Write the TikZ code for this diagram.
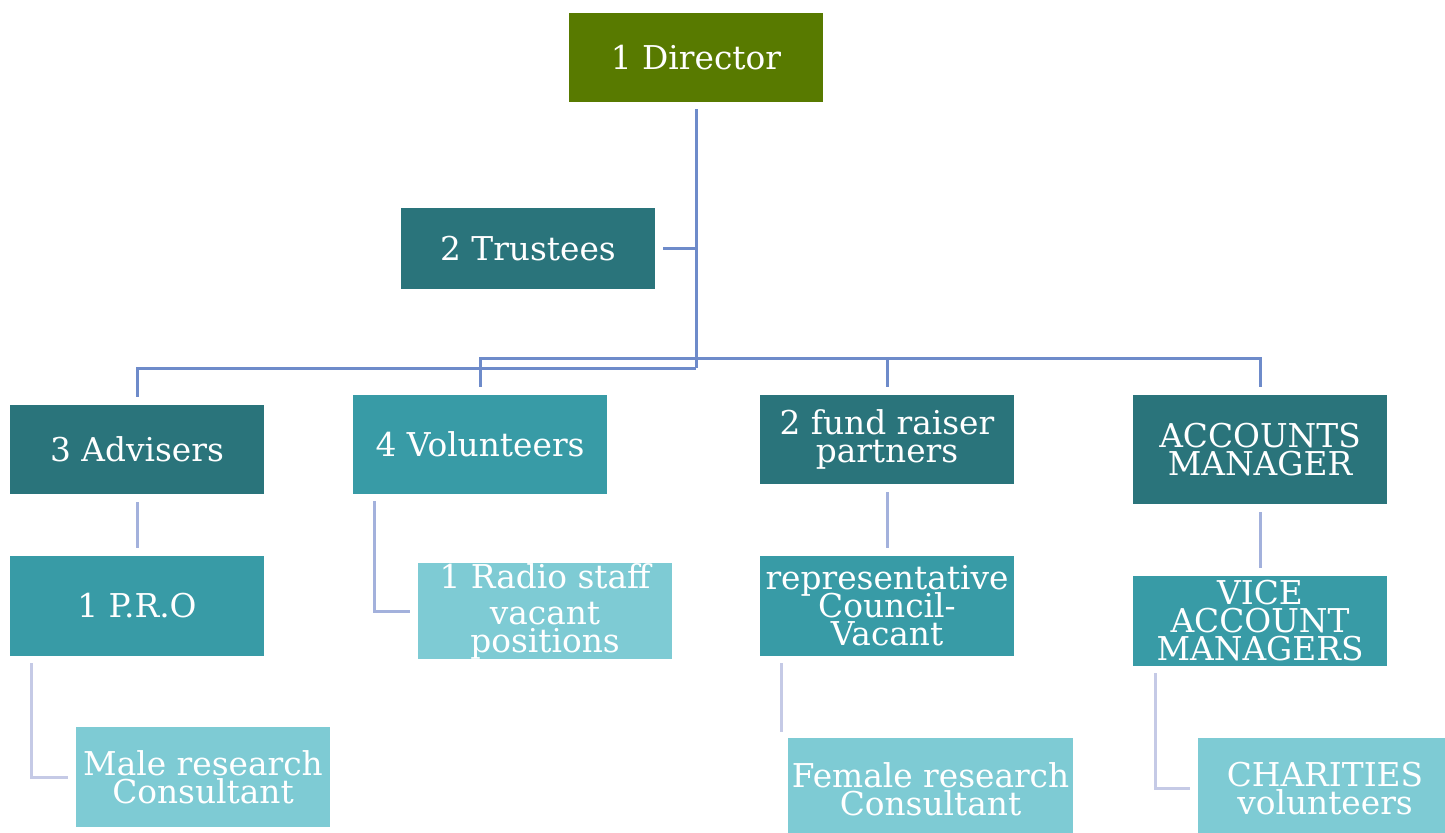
\documentclass[tikz,border=0pt]{standalone}
\usepackage{fontspec}
\setmainfont{DejaVu Serif}
\usepackage{tikz}
\usetikzlibrary{calc}

\definecolor{dirgreen}{HTML}{587A00}
\definecolor{darkteal}{HTML}{2A747B}
\definecolor{midteal}{HTML}{389BA6}
\definecolor{lightteal}{HTML}{7ECBD4}
\definecolor{linkblue}{HTML}{6E8BCA}
\definecolor{sublink}{HTML}{A3B1DC}
\definecolor{litelink}{HTML}{C5CAE6}

\newcommand\orgfont{\fontsize{16.4}{14}\selectfont\lineskiplimit=-20pt\relax}

\begin{document}
\begin{tikzpicture}[x=0.5pt,y=-0.5pt,
  box/.style={minimum width=127pt,minimum height=45pt,inner sep=0pt,text=white,align=center,font=\orgfont},
  top/.style={box,fill=dirgreen},
  dark/.style={box,fill=darkteal},
  mid/.style={box,fill=midteal},
  light/.style={box,fill=lightteal},
  link/.style={draw=linkblue,line width=1.5pt},
  sub/.style={draw=sublink,line width=1.5pt},
  lite/.style={draw=litelink,line width=1.5pt}]
\useasboundingbox (0,0) rectangle (1445,832);

\node[top, minimum height=44.5pt] (director) at (696,57.5) {1 Director};
\node[dark, minimum height=40.5pt] (trustees) at (528,248.5) {2 Trustees};

\node[dark, minimum height=44.5pt] (advisers) at (137,449.5) {3 Advisers};
\node[mid, minimum height=49.5pt] (volunteers) at (480,444.5) {4 Volunteers};
\node[dark, minimum height=44.5pt] (fund) at (887,439.5) {2 fund raiser\\ partners};
\node[dark, minimum height=54.5pt] (accounts) at (1260,449.5) {ACCOUNTS\\ MANAGER};

\node[mid, minimum height=50pt] (pro) at (137,606) {1 P.R.O};
\node[light] (radio) at (545,611) {1 Radio staff\\[4pt] vacant\\ positions};
\node[mid, minimum height=50pt] (rep) at (887,606) {representative\\ Council-\\ Vacant};
\node[mid] (vice) at (1260,621) {VICE\\ ACCOUNT\\ MANAGERS};

\node[light, minimum height=50pt] (male) at (203,777) {Male research\\ Consultant};
\node[light, minimum width=142.5pt, minimum height=51pt] (female) at (930.5,789) {Female research\\ Consultant};
\node[light, minimum height=51pt] (charities) at (1325,789) {CHARITIES\\ volunteers};

\coordinate (busA) at (696,368);
\coordinate (busB) at (696,358);

\draw[link, shorten <=3.5pt] (director.south) -- (busA);
\draw[link, shorten <=4pt] (trustees.east) -- (trustees.east -| busA);
\draw[link, shorten >=4pt] (busA) -| (advisers.north);
\foreach \n in {volunteers,fund,accounts}
  \draw[link, shorten >=4pt] (busB) -| (\n.north);

\draw[sub, shorten <=4pt, shorten >=4pt] (advisers.south) -- (pro.north);
\draw[sub, shorten <=3.5pt, shorten >=4pt] ($(volunteers.south west)+(22,0)$) |- (radio.west);
\draw[sub, shorten <=4pt, shorten >=4pt] (fund.south) -- (rep.north);
\draw[sub, shorten <=4pt, shorten >=4pt] (accounts.south) -- (vice.north);

\draw[lite, shorten <=3.5pt, shorten >=4pt] ($(pro.south west)+(22,0)$) |- (male.west);
\draw[lite, shorten <=3.5pt] ($(rep.south west)+(22,0)$) -- ++(0,76);
\draw[lite, shorten <=3.5pt, shorten >=4pt] ($(vice.south west)+(23,0)$) |- ($(charities.west)+(0,-1)$);
\end{tikzpicture}
\end{document}
